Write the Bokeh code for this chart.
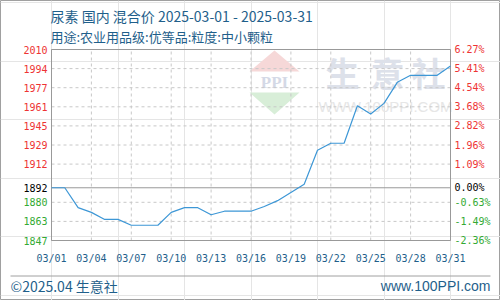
import numpy as np
from bokeh.plotting import figure
from bokeh.models import Range1d, FixedTicker, LinearAxis
from bokeh.core.properties import value
from bokeh.embed import file_html
from bokeh.resources import INLINE

# ---------------- data ----------------
dates = ["03/01", "03/02", "03/03", "03/04", "03/05", "03/06", "03/07", "03/08",
         "03/09", "03/10", "03/11", "03/12", "03/13", "03/14", "03/15", "03/16",
         "03/17", "03/18", "03/19", "03/20", "03/21", "03/22", "03/23", "03/24",
         "03/25", "03/26", "03/27", "03/28", "03/29", "03/30", "03/31"]
prices = [1892, 1892, 1875, 1871, 1865, 1865, 1860, 1860,
          1860, 1871, 1875, 1875, 1869, 1872, 1872, 1872,
          1876, 1881, 1888, 1895, 1924, 1930, 1930, 1962,
          1955, 1964, 1982, 1988, 1988, 1988, 1996]
x_tick_labels = ["03/01", "03/04", "03/07", "03/10", "03/13", "03/16",
                 "03/19", "03/22", "03/25", "03/28", "03/31"]
y_labels_left = ["2010", "1994", "1977", "1961", "1945", "1929", "1912",
                 "1892", "1880", "1863", "1847"]
y_labels_right = ["6.27%", "5.41%", "4.54%", "3.68%", "2.82%", "1.96%", "1.09%",
                  "0.00%", "-0.63%", "-1.49%", "-2.36%"]
base_price = 1892
y_min, y_max = 1847, 2010
title_text = "尿素 国内 混合价 2025-03-01 - 2025-03-31"
subtitle_text = "用途:农业用品级:优等品:粒度:中小颗粒"
footer_left = "©2025.04 生意社"
footer_right = "www.100PPI.com"
watermark_chars = ["生", "意", "社"]
watermark_url = "WWW.100PPI.COM"

# ---------------- styling ----------------
BLUE_TXT = "#1f5f8b"
RED = "#ee3333"
GREEN = "#33aa33"
LINE = "#3d97d6"
GRID = "#c8c8c8"
FRAME = "#999999"
CJK = "Noto Sans CJK SC"
MONO = "DejaVu Sans Mono"

W, H = 500, 300
PL, PR, PT, PB = 51, 450, 49, 240     # plot area in page pixels

xs_day = list(range(len(dates)))
x0, x1 = 0, len(dates) - 1
kx = (PR - PL) / (x1 - x0)            # px per day
ky = (PB - PT) / (y_max - y_min)      # px per price unit

# the frame is the whole canvas; ranges are set so the plot area sits where it does
p = figure(width=W, height=H, output_backend="svg", toolbar_location=None,
           x_range=Range1d(x0 - PL / kx, x1 + (W - PR) / kx),
           y_range=Range1d(y_min - (H - PB) / ky, y_max + PT / ky),
           x_axis_location=None, y_axis_location=None,
           min_border=0, background_fill_color="white", border_fill_color="white")
p.title.visible = False
p.outline_line_color = "#a0a0a0"
p.outline_line_width = 1

def fx(px):
    return x0 + (px - PL) / kx

def fy(py):
    return y_min + (PB - py) / ky

# ---------------- tick positions ----------------
tick_idx = [dates.index(d) for d in x_tick_labels]
y_pos = [round(float(v), 3) for v in np.linspace(y_max, y_min, len(y_labels_left))]
bi = y_labels_left.index(str(base_price))
y_pos[bi] = base_price
grid_pos = [v for i, v in enumerate(y_pos) if i != bi]

# ---------------- watermark ----------------
p.patch([fx(249), fx(274), fx(299)], [fy(71), fy(50), fy(71)],
        fill_color="#f6d8d8", line_color=None)
p.patch([fx(249), fx(274), fx(299)], [fy(92), fy(114), fy(92)],
        fill_color="#d8eed8", line_color=None)
p.text(x=[fx(274)], y=[fy(82)], text=["PPI"], text_font=value("Liberation Serif"),
       text_font_size="17px", text_font_style="bold", text_color="#d4d9e6",
       text_align="center", text_baseline="middle")
p.text(x=[fx(342), fx(387), fx(428)], y=[fy(72)] * 3, text=watermark_chars,
       text_font=value(CJK), text_font_size="34px", text_font_style="bold",
       text_color="#dde1ea", text_align="center", text_baseline="middle")
p.text(x=[fx(385)], y=[fy(106)], text=[watermark_url], text_font=value("Liberation Sans"),
       text_font_size="15px", text_color="#e6e6e6",
       text_align="center", text_baseline="middle")

# ---------------- grid & plot box ----------------
p.segment(x0=tick_idx, x1=tick_idx, y0=[y_min] * len(tick_idx), y1=[y_max] * len(tick_idx),
          line_color=GRID, line_dash="3 3", line_width=1)
p.segment(x0=[x0] * len(grid_pos), x1=[x1] * len(grid_pos), y0=grid_pos, y1=grid_pos,
          line_color=GRID, line_dash="3 3", line_width=1)
p.segment(x0=[x0], x1=[x1], y0=[base_price], y1=[base_price],
          line_color=FRAME, line_width=1)
p.quad(left=[x0], right=[x1], bottom=[y_min], top=[y_max],
       fill_color=None, line_color=FRAME, line_width=1)

# ---------------- price line ----------------
p.line(xs_day, prices, line_color=LINE, line_width=1.2)

# ---------------- axes (fixed inside the canvas) ----------------
xax = LinearAxis(fixed_location=y_min, ticker=FixedTicker(ticks=tick_idx),
                 major_label_overrides={i: d for i, d in zip(tick_idx, x_tick_labels)},
                 axis_line_color=None, major_tick_line_color=None, minor_tick_line_color=None,
                 major_tick_in=0, major_tick_out=0, major_label_standoff=12,
                 major_label_text_font=MONO, major_label_text_font_size="10px",
                 major_label_text_color=BLUE_TXT)
p.add_layout(xax, "below")

groups = [
    ([i for i, v in enumerate(y_pos) if v > base_price], RED),
    ([bi], "#000000"),
    ([i for i, v in enumerate(y_pos) if v < base_price], GREEN),
]
for idx, col in groups:
    for side, loc, labels in (("left", x0, y_labels_left), ("right", x1, y_labels_right)):
        ax = LinearAxis(fixed_location=loc, ticker=FixedTicker(ticks=[y_pos[i] for i in idx]),
                        major_label_overrides={y_pos[i]: labels[i] for i in idx},
                        axis_line_color=None, major_tick_line_color=None,
                        minor_tick_line_color=None, major_tick_in=0, major_tick_out=0,
                        major_label_standoff=4, major_label_text_font=MONO,
                        major_label_text_font_size="10px", major_label_text_color=col)
        p.add_layout(ax, side)

# ---------------- titles & footer ----------------
p.text(x=[fx(50)], y=[fy(15)], text=[title_text], text_font=value(CJK),
       text_font_size="14px", text_color=BLUE_TXT, text_align="left", text_baseline="middle")
p.text(x=[fx(50)], y=[fy(36)], text=[subtitle_text], text_font=value(CJK),
       text_font_size="13px", text_color=BLUE_TXT, text_align="left", text_baseline="middle")
p.segment(x0=[fx(10)], x1=[fx(490)], y0=[fy(275.5)], y1=[fy(275.5)],
          line_color="#a0a0a0", line_width=1)
p.text(x=[fx(10)], y=[fy(285)], text=[footer_left], text_font=value(CJK),
       text_font_size="14px", text_color=BLUE_TXT, text_align="left", text_baseline="middle")
p.text(x=[fx(490)], y=[fy(285)], text=[footer_right], text_font=value("Liberation Sans"),
       text_font_size="14px", text_color=BLUE_TXT, text_align="right", text_baseline="middle")

open("out.html", "w").write(file_html(p, INLINE))
